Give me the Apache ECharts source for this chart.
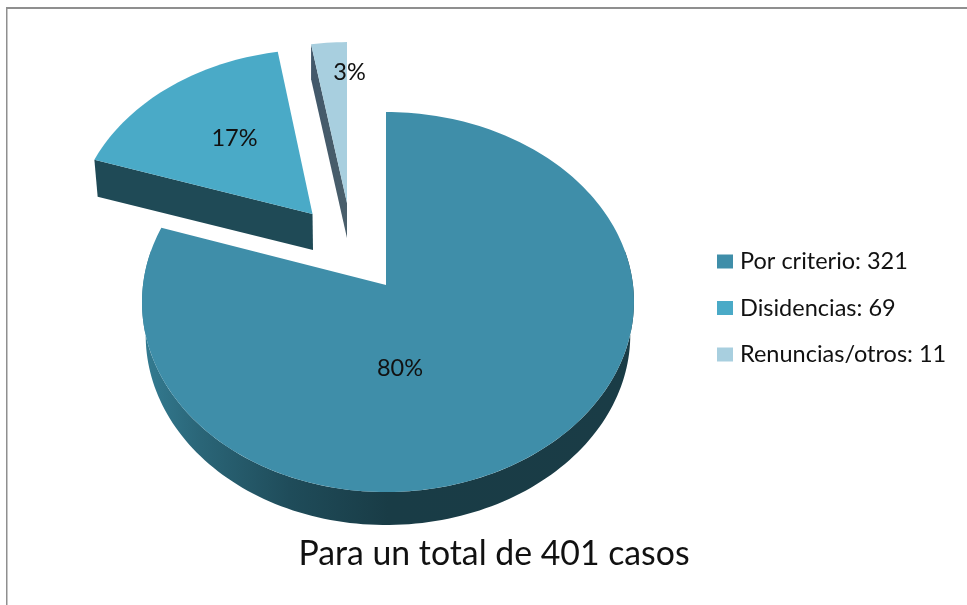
<!DOCTYPE html>
<html><head><meta charset="utf-8">
<style>html,body{margin:0;padding:0;background:#fff}#c{width:967px;height:605px}</style>
<script src="https://cdn.jsdelivr.net/npm/echarts@6/dist/echarts.min.js"></script>
</head><body><div id="c"></div>
<script>
const categories = ['Por criterio', 'Disidencias', 'Renuncias/otros'];
const values = [321, 69, 11];
const percentLabels = ['80%', '17%', '3%'];
const titleText = 'Para un total de 401 casos';

const topColors = ['#3f8ea9', '#4aaac7', '#a8cfdf'];
const total = values.reduce((a, b) => a + b, 0);
const FONT = 'Lato';

// layout of each exploded slice: apex, radius scale, x stretch, shear, side offset, depth, label position
const layouts = [
  {ax: 386, ay: 285, s: 1,    sx: 1,     sh: 0,     ox: 2, d: 33, lx: 400, ly: 368},
  {ax: 312.5, ay: 214, s: 0.95, sx: 1.018, sh: 0.016, ox: 0, d: 37, lx: 234.5, ly: 138},
  {ax: 347, ay: 203, s: 0.93, sx: 1,     sh: 0,     ox: 0, d: 35, lx: 349.5, ly: 72}
];
const RX = 245, RY = 188.5, K = 0.0895, BOTTOM_SCALE = 0.985;

function project(l, t, scaleX) {
  const u = Math.sin(t), v = Math.cos(t), w = 1 + K * v;
  const y = -l.s * RY * v / w;
  const x = scaleX * l.s * l.sx * RX * u / w + l.ox * u * u - l.sh * y;
  return [l.ax + x, l.ay + y];
}
function arc(l, t0, t1, scaleX, dy) {
  const pts = [], n = Math.max(4, Math.ceil(Math.abs(t1 - t0) * 40));
  for (let i = 0; i <= n; i++) {
    const p = project(l, t0 + (t1 - t0) * i / n, scaleX);
    pts.push([p[0], p[1] + dy]);
  }
  return pts;
}
function angleRange(i) {
  let a = 0;
  for (let j = 0; j < i; j++) a += values[j];
  return [a / total * 2 * Math.PI, (a + values[i]) / total * 2 * Math.PI];
}
function grad(x0, x1, stops) {
  return {type: 'linear', x: x0, y: 0, x2: x1, y2: 0, global: true,
    colorStops: stops.map(s => ({offset: s[0], color: s[1]}))};
}
function poly(points, fill, z2) {
  return {type: 'polygon', shape: {points}, style: {fill}, z2: z2 || 0};
}
function renderSlice(i) {
  return function () {
    const l = layouts[i], r = angleRange(i), children = [];
    if (i === 0) {
      const t0 = Math.PI * 0.44, t1 = Math.PI * 1.56;
      const top = arc(l, t0, t1, 1, 0), bot = arc(l, t1, t0, BOTTOM_SCALE, l.d);
      children.push(poly(top.concat(bot), grad(142, 634, [
        [0, '#347c92'], [0.12, '#2a6577'], [0.3, '#1f4c5a'], [0.5, '#193c46'], [1, '#1a3c46']
      ])));
    } else if (i === 1) {
      const a = project(l, r[0], 1), b = [l.ax, l.ay];
      const a2 = project(l, r[0], BOTTOM_SCALE);
      children.push(poly([a, b, [l.ax + 0.5, l.ay + l.d - 1], [a2[0], a2[1] + l.d]], '#1f4a56'));
    } else {
      const a = project(l, r[0], 1);
      children.push(poly([a, [l.ax, l.ay], [l.ax, l.ay + l.d], [a[0], a[1] + l.d]], grad(a[0], l.ax, [
        [0, '#42586a'], [1, '#4a5f6b']
      ])));
    }
    children.push(poly([[l.ax, l.ay]].concat(arc(l, r[0], r[1], 1, 0)), topColors[i], 1));
    children.push({type: 'text', z2: 5, style: {
      text: percentLabels[i], x: l.lx, y: l.ly, align: 'center', verticalAlign: 'middle',
      fill: '#111', font: '23.5px ' + FONT
    }});
    return {type: 'group', children};
  };
}
const names = categories.map((c, i) => c + ': ' + values[i]);

const chart = echarts.init(document.getElementById('c'), null, {renderer: 'canvas'});
chart.setOption({
  animation: false,
  backgroundColor: '#fff',
  title: {
    text: titleText, left: 489, top: 532, textAlign: 'center',
    textStyle: {fontFamily: FONT, fontSize: 33.8, fontWeight: 'normal', color: '#111'}
  },
  legend: {
    orient: 'vertical', left: 712, top: 243.5, itemWidth: 16, itemHeight: 14, itemGap: 20.5,
    icon: 'rect', selectedMode: false, data: names,
    textStyle: {fontFamily: FONT, fontSize: 23.5, color: '#111', padding: [0, 0, 0, 2], lineHeight: 26}
  },
  graphic: [
    {type: 'rect', shape: {x: 6, y: 7, width: 961, height: 2}, style: {fill: '#8f8f8f'}, silent: true},
    {type: 'rect', shape: {x: 6, y: 7, width: 1.5, height: 598}, style: {fill: '#8f8f8f'}, silent: true}
  ],
  series: categories.map((c, i) => ({
    type: 'custom', name: names[i], coordinateSystem: 'none', silent: true,
    itemStyle: {color: topColors[i]}, data: [values[i]], renderItem: renderSlice(i), z: 3 - i
  }))
});
</script></body></html>
